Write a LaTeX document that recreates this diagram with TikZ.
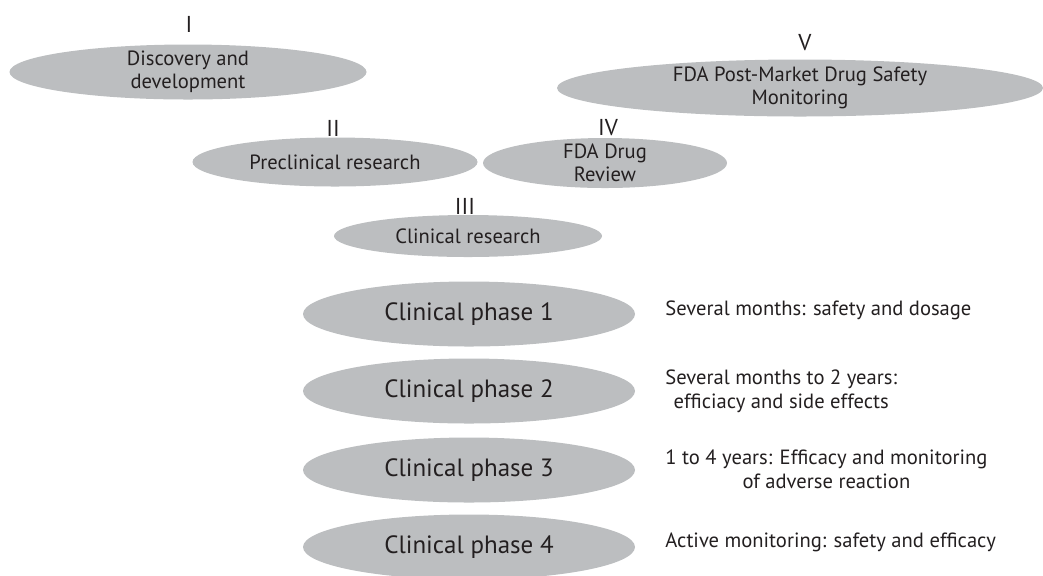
\documentclass[tikz,border=0pt]{standalone}
\usepackage{fontspec}
\setmainfont{PT Sans}
\usepackage{tikz}
\usepackage{xcolor}
\usetikzlibrary{shapes}
\tikzset{
	% grey ellipses for the five stages
	stage/.style={
		ellipse,
		fill=stagegray,
		text=inkgray,
		inner xsep=0pt,
		inner ysep=-3pt,
		align=center,
		font=\fontsize{10.3}{11.4}\selectfont
	},
	% larger ellipses for the clinical phases
	phase/.style={
		ellipse,
		fill=stagegray,
		text=inkgray,
		inner sep=0pt,
		minimum width=166pt,
		minimum height=32.5pt,
		font=\fontsize{12.5}{15}\selectfont
	},
	numeral/.style={
		text=inkgray,
		inner sep=0pt,
		font=\fontsize{11.5}{13}\selectfont
	},
	note/.style={
		anchor=west,
		text=inkgray,
		inner sep=0pt,
		align=center,
		font=\fontsize{10.3}{12.2}\selectfont
	}
}
\definecolor{stagegray}{HTML}{BCBEC0}
\definecolor{inkgray}{HTML}{231F20}

\begin{document}
\begin{tikzpicture}[x=0.5pt, y=-0.5pt]
\useasboundingbox (0,0) rectangle (1043,575);

% stages
\node[stage, minimum width=178.5pt, minimum height=27.5pt] at (188,72) (S1) {Discovery and\\development};
\node[stage, minimum width=142.5pt, minimum height=24.5pt] at (335,162) (S2) {Preclinical research};
\node[stage, minimum width=134pt, minimum height=21pt] at (468,236) (S3) {Clinical research};
\node[stage, minimum width=122pt, minimum height=25pt] at (605,163) (S4) {FDA Drug\\Review};
\node[stage, minimum width=243pt, minimum height=28.5pt] at (800,88) (S5) {FDA Post-Market Drug Safety\\Monitoring};

\node[numeral] at (189,24) (L1) {I};
\node[numeral] at (333,128) (L2) {II};
\node[numeral] at (465,206) (L3) {III};
\node[numeral] at (608,128) (L4) {IV};
\node[numeral] at (805,43) (L5) {V};

% clinical phases
\node[phase] at (469,314) (P1) {Clinical phase 1};
\node[phase] at (469,391) (P2) {Clinical phase 2};
\node[phase] at (469,470) (P3) {Clinical phase 3};
\node[phase] at (469,547) (P4) {Clinical phase 4};

\node[note] at (665,310) (N1) {Several months: safety and dosage};
\node[note] at (665,391) (N2) {Several months to 2 years:\\efficiacy and side effects};
\node[note] at (665,469) (N3) {1 to 4 years: Efficacy and monitoring\\of adverse reaction};
\node[note] at (665,542) (N4) {Active monitoring: safety and efficacy};

\end{tikzpicture}
\end{document}
